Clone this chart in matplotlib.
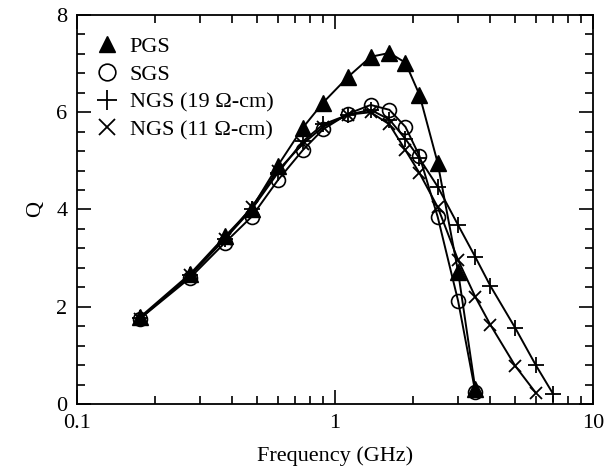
import matplotlib
matplotlib.use('Agg')
import matplotlib.pyplot as plt
from matplotlib.lines import Line2D
from matplotlib.ticker import MultipleLocator, LogLocator, NullFormatter, FixedLocator, FixedFormatter

plt.rcParams.update({
    'font.family': ['Liberation Serif', 'DejaVu Serif'],
    'font.size': 16,
})

# measured frequencies (GHz)
freq = [0.175, 0.275, 0.375, 0.475, 0.6, 0.75, 0.9, 1.125, 1.375,
        1.625, 1.875, 2.125, 2.5, 3.0, 3.5]
freq_ngs19 = freq + [4.0, 5.0, 6.0, 7.0]
freq_ngs11 = freq + [4.0, 5.0, 6.0]

q_pgs = [1.78, 2.68, 3.45, 4.02, 4.9, 5.68, 6.2, 6.73, 7.14,
         7.22, 7.02, 6.36, 4.96, 2.72, 0.3]
q_sgs = [1.75, 2.6, 3.32, 3.85, 4.6, 5.22, 5.65, 5.97, 6.15,
         6.05, 5.7, 5.1, 3.85, 2.12, 0.24]
q_ngs19 = [1.76, 2.65, 3.4, 4.0, 4.75, 5.4, 5.75, 5.95, 6.05,
           5.85, 5.45, 5.05, 4.47, 3.68, 3.02, 2.43, 1.56, 0.8, 0.21]
q_ngs11 = [1.75, 2.65, 3.4, 4.05, 4.8, 5.35, 5.7, 5.95, 6.0,
           5.75, 5.22, 4.75, 4.05, 2.96, 2.2, 1.63, 0.78, 0.23]

labels = ['PGS', 'SGS', 'NGS (19 \u03a9-cm)', 'NGS (11 \u03a9-cm)']

fig = plt.figure(figsize=(6.14, 4.73), dpi=100)
ax = fig.add_axes([0.1254, 0.1459, 0.8404, 0.8224])

lw = 1.4
ax.plot(freq_ngs19, q_ngs19, color='black', lw=lw, marker='+', ms=12, mew=1.3)
ax.plot(freq_ngs11, q_ngs11, color='black', lw=lw, marker='x', ms=9, mew=1.3)
ax.plot(freq, q_sgs, color='black', lw=lw, marker='o', ms=10, mfc='none', mew=1.2)
ax.plot(freq, q_pgs, color='black', lw=lw, marker='^', ms=11, mfc='black')

ax.set_xscale('log')
ax.set_xlim(0.1, 10)
ax.set_ylim(0, 8)
ax.xaxis.set_major_locator(FixedLocator([0.1, 1, 10]))
ax.xaxis.set_major_formatter(FixedFormatter(['0.1', '1', '10']))
ax.xaxis.set_minor_locator(LogLocator(base=10, subs=range(2, 10)))
ax.xaxis.set_minor_formatter(NullFormatter())
ax.yaxis.set_major_locator(MultipleLocator(2))
ax.yaxis.set_minor_locator(MultipleLocator(0.4))

ax.tick_params(which='both', direction='in', top=True, right=True, width=1.2)
ax.tick_params(which='major', length=10, pad=7)
ax.tick_params(which='minor', length=6)
for s in ax.spines.values():
    s.set_linewidth(1.3)

ax.set_xlabel('Frequency (GHz)', labelpad=10)
ax.set_ylabel('Q', labelpad=8)

handles = [
    Line2D([], [], ls='none', color='black', marker='^', ms=12, mfc='black'),
    Line2D([], [], ls='none', color='black', marker='o', ms=12, mfc='none', mew=1.2),
    Line2D([], [], ls='none', color='black', marker='+', ms=14, mew=1.3),
    Line2D([], [], ls='none', color='black', marker='x', ms=11, mew=1.3),
]
ax.legend(handles, labels, loc='upper left', frameon=False, handlelength=1.0,
          handletextpad=0.5, labelspacing=0.32, borderaxespad=0.4,
          fontsize=16, bbox_to_anchor=(0.003, 0.99))

fig.savefig('out.png', dpi=100, facecolor='white')
